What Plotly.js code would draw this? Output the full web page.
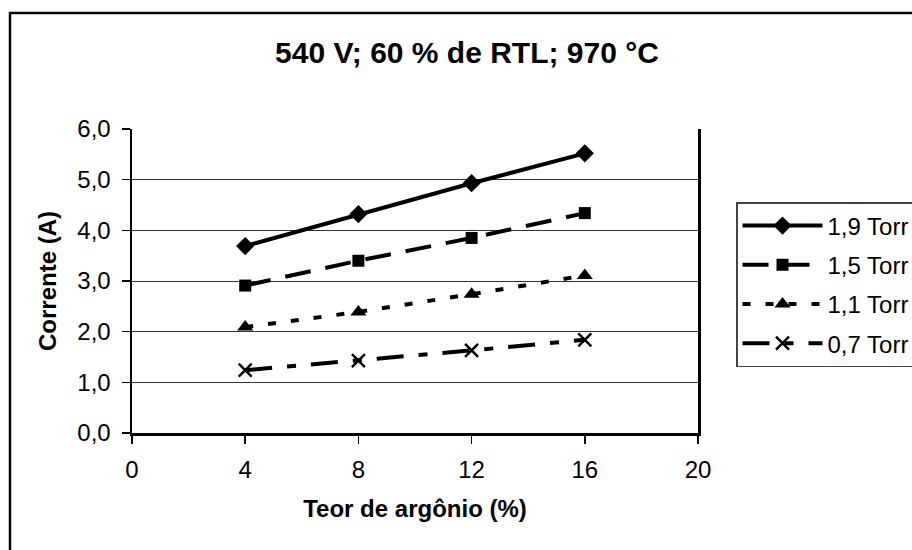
<!DOCTYPE html>
<html>
<head>
<meta charset="utf-8">
<script src="https://cdn.plot.ly/plotly-3.0.1.min.js"></script>
<style>html,body{margin:0;padding:0;background:#fff;}#chart{width:912px;height:550px;}</style>
</head>
<body>
<div id="chart"></div>
<script>
// Data
const teorArgonio = [4, 8, 12, 16];
const seriesNames = ["1,9 Torr", "1,5 Torr", "1,1 Torr", "0,7 Torr"];
const corrente19 = [3.69, 4.32, 4.93, 5.52];
const corrente15 = [2.91, 3.40, 3.85, 4.34];
const corrente11 = [2.09, 2.39, 2.74, 3.11];
const corrente07 = [1.24, 1.43, 1.63, 1.84];
const xTicks = [0, 4, 8, 12, 16, 20];
const yTicks = [0, 1, 2, 3, 4, 5, 6];

const FONT = "Liberation Sans, Arial, sans-serif";
const ML = 132, MR = 214, MT = 129, MB = 117, W = 912, H = 550;
const pw = W - ML - MR, ph = H - MT - MB;
const px2x = p => (p - ML) / pw;
const px2y = p => (H - MB - p) / ph;

function tr(y, name, dash, symbol, msize, group) {
  return {
    x: teorArgonio, y: y, name: name, type: "scatter", mode: "lines+markers",
    legendgroup: group,
    line: {color: "#000", width: 4, dash: dash},
    marker: {symbol: symbol, size: msize, color: "#000",
             line: {color: "#000", width: symbol.indexOf("open") >= 0 ? 2.5 : 0}},
    hoverinfo: "x+y"
  };
}

const data = [
  tr(corrente19, seriesNames[0], "solid", "diamond", 14, "g1"),
  tr(corrente15, seriesNames[1], "26px,15px", "square", 12, "g2"),
  tr(corrente11, seriesNames[2], "8px,15px", "triangle-up", 14, "g3"),
  tr(corrente07, seriesNames[3], "27px,15px,9px,15px", "x-thin-open", 13, "g4")
];

const layout = {
  width: W, height: H,
  margin: {l: ML, r: MR, t: MT, b: MB, pad: 0, autoexpand: false},
  paper_bgcolor: "#fff", plot_bgcolor: "#fff",
  separators: ",.",
  font: {family: FONT, color: "#000", size: 24},
  showlegend: true,
  title: {
    text: "<b>540 V; 60 % de RTL; 970 °C</b>",
    font: {family: FONT, size: 30, color: "#000"},
    x: 467 / W, xanchor: "center", xref: "container",
    y: 1 - 52 / H, yanchor: "middle", yref: "container"
  },
  xaxis: {
    range: [0, 20], tickvals: xTicks, ticktext: xTicks.map(String),
    ticks: "outside", ticklen: 8, tickwidth: 1.5, tickcolor: "#000",
    ticklabelstandoff: 6,
    showline: true, linecolor: "#000", linewidth: 2.5,
    showgrid: false, zeroline: false,
    tickfont: {family: FONT, size: 24, color: "#000"},
    title: {text: "<b>Teor de argônio (%)</b>", font: {family: FONT, size: 24, color: "#000"}, standoff: 18},
    fixedrange: true
  },
  yaxis: {
    range: [0, 6], tickvals: yTicks, tickformat: ".1f",
    ticks: "outside", ticklen: 8, tickwidth: 1.5, tickcolor: "#000",
    ticklabelstandoff: 6,
    showline: true, linecolor: "#000", linewidth: 2.5, mirror: true,
    showgrid: true, gridcolor: "#333", gridwidth: 1,
    zeroline: false,
    tickfont: {family: FONT, size: 24, color: "#000"},
    title: {text: "<b>Corrente (A)</b>", font: {family: FONT, size: 24, color: "#000"}, standoff: 14},
    fixedrange: true
  },
  legend: {
    x: px2x(736), y: px2y(202), xanchor: "left", yanchor: "top",
    bgcolor: "#fff", bordercolor: "#444", borderwidth: 1.5,
    font: {family: FONT, size: 24, color: "#000"},
    itemwidth: 80, tracegroupgap: 5, traceorder: "grouped"
  },
  shapes: [{
    type: "rect", xref: "paper", yref: "paper",
    x0: px2x(10), x1: px2x(980), y0: px2y(620), y1: px2y(13),
    line: {color: "#000", width: 2.5}, fillcolor: "rgba(0,0,0,0)", layer: "below"
  }]
};

Plotly.newPlot("chart", data, layout, {displayModeBar: false, staticPlot: true});
</script>
</body>
</html>
